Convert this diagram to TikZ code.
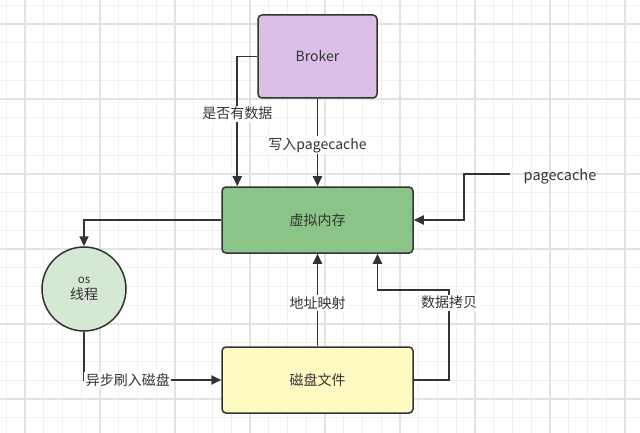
\documentclass[tikz,border=0pt]{standalone}
\usepackage{fontspec}
\usepackage{xcolor}
\usepackage{tikz}
\usetikzlibrary{arrows.meta, positioning, calc}
\newfontfamily\cjk{Noto Sans CJK SC}

\definecolor{brokerfill}{HTML}{DCBFE6}
\definecolor{vmemfill}{HTML}{8BC487}
\definecolor{diskfill}{HTML}{FFF9C2}
\definecolor{osfill}{HTML}{D5E8D4}
\definecolor{linegray}{HTML}{333333}
\definecolor{gridminor}{HTML}{F0F0F0}
\definecolor{gridmajor}{HTML}{E2E2E2}

\begin{document}
\begin{tikzpicture}[x=1pt, y=-1pt,
    box/.style={draw=linegray, line width=1.5pt, rounded corners=4pt, font=\cjk\fontsize{14}{16}\selectfont, text=linegray, inner sep=0pt},
    lbl/.style={fill=white, font=\cjk\fontsize{14}{16}\selectfont, text=linegray, inner sep=1.5pt},
    arr/.style={draw=linegray, line width=1.8pt, -{Triangle[length=10pt, width=9pt]}}]
      \useasboundingbox (0,0) rectangle (640,433);
      \fill[white] (0,0) rectangle (640,433);

      % background grid
      \foreach \k in {0,...,33} \draw[gridminor, line width=0.8pt] ({6.25+18.75*\k},0) -- ({6.25+18.75*\k},433);
      \foreach \k in {0,...,22} \draw[gridminor, line width=0.8pt] (0,{5.25+18.75*\k}) -- (640,{5.25+18.75*\k});
      \foreach \k in {0,...,8} \draw[gridmajor, line width=1.2pt] ({25+75*\k},0) -- ({25+75*\k},433);
      \foreach \k in {0,...,5} \draw[gridmajor, line width=1.2pt] (0,{24+75*\k}) -- (640,{24+75*\k});

      \node[box, fill=brokerfill, minimum width=119pt, minimum height=83pt] (broker) at (317.5,56.5) {Broker};
      \node[box, fill=vmemfill, minimum width=191pt, minimum height=66pt] (vmem) at (317.5,220) {虚拟内存};
      \node[box, fill=diskfill, minimum width=191pt, minimum height=66pt] (disk) at (317.5,380) {磁盘文件};
      \node[box, circle, fill=osfill, minimum size=84pt, align=center] (osth) at (84,289)
        {{\fontsize{11.5}{11.5}\selectfont os}\\[0pt]线程};
      \node[font=\cjk\fontsize{14.5}{16}\selectfont, text=linegray] (pclabel) at (560,177) {pagecache};
      \coordinate (cpturn) at (449,290);

      \draw[arr] (broker.west) -| node[lbl, pos=0.72] {是否有数据} ([xshift=16pt]vmem.north west);
      \draw[arr] (broker.south) -- node[lbl, pos=0.53] {写入pagecache} (vmem.north);
      \draw[arr] ([xshift=-10pt, yshift=3pt]pclabel.west) -| ([xshift=50pt]vmem.east) -- (vmem.east);
      \draw[arr] (vmem.west) -| (osth.north);
      \draw[arr] (osth.south) |- node[lbl, pos=0.66] {异步刷入磁盘} (disk.west);
      \draw[arr] (disk.north) -- node[lbl, pos=0.47] {地址映射} (vmem.south);
      \draw[arr] (disk.east) -| node[lbl, pos=0.93] {数据拷贝} (cpturn) -| ([xshift=60pt]vmem.south);
    \end{tikzpicture}
\end{document}
